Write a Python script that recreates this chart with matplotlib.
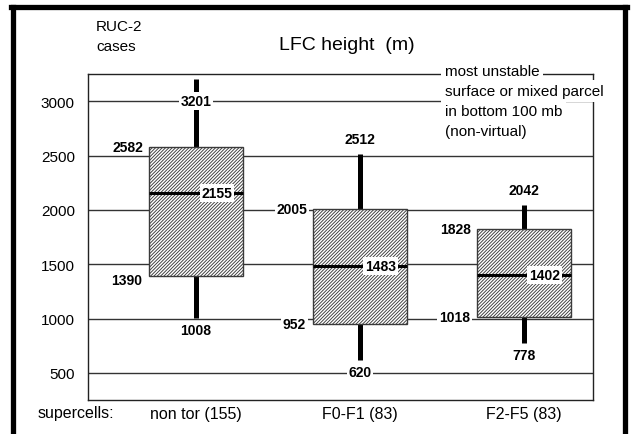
import matplotlib
matplotlib.use("Agg")
import matplotlib.pyplot as plt
from matplotlib.lines import Line2D
from matplotlib.patches import Rectangle

plt.rcParams['font.family'] = ['Liberation Sans', 'DejaVu Sans']
plt.rcParams['hatch.linewidth'] = 0.65

# box plot stats (m)
groups = ["non tor (155)", "F0-F1 (83)", "F2-F5 (83)"]
mins = [1008, 620, 778]
q1s = [1390, 952, 1018]
medians = [2155, 1483, 1402]
q3s = [2582, 2005, 1828]
maxs = [3201, 2512, 2042]

yticks = [500, 1000, 1500, 2000, 2500, 3000]
note_lines = ["most unstable", "surface or mixed parcel",
              "in bottom 100 mb", "(non-virtual)"]

W, H = 631, 435
fig = plt.figure(figsize=(W / 100, H / 100), dpi=100)
ax = fig.add_axes([88 / W, 1 - 401 / H, 505 / W, 326 / H])
ax.set_xlim(-0.659, 2.421)
ax.set_ylim(250, 3250)

# gridlines
for v in yticks:
    ax.axhline(v, color="#333333", lw=1.0, zorder=0.5)

bw = 0.575
lab = dict(fontsize=10, fontweight="bold", zorder=6,
           bbox=dict(facecolor="white", edgecolor="none", pad=1.3))
px = 1 / 164.0  # one pixel in x data units

for i in range(len(groups)):
    # whiskers
    ax.plot([i, i], [mins[i], q1s[i]], color="black", lw=3.6,
            solid_capstyle="butt", zorder=1.5)
    ax.plot([i, i], [q3s[i], maxs[i]], color="black", lw=3.6,
            solid_capstyle="butt", zorder=1.5)
    # box
    ax.add_patch(Rectangle((i - bw / 2, q1s[i]), bw, q3s[i] - q1s[i],
                           facecolor="white", edgecolor="#3a3a3a", lw=1.0,
                           hatch="//////////", zorder=2))
    # median
    ax.plot([i - bw / 2, i + bw / 2], [medians[i], medians[i]],
            color="black", lw=2.2, solid_capstyle="butt", zorder=3)
    ax.text(i + bw / 2 - 11 * px, medians[i], str(medians[i]),
            ha="right", va="center", **lab)
    # quartile labels left of box
    ax.annotate(str(q3s[i]), (i - bw / 2, q3s[i]), xytext=(-4, 0),
                textcoords="offset points", ha="right", va="center", **lab)
    dy = -3 if i == 0 else 0
    ax.annotate(str(q1s[i]), (i - bw / 2, q1s[i]), xytext=(-5, dy),
                textcoords="offset points", ha="right", va="center", **lab)
    # min label under whisker
    ax.annotate(str(mins[i]), (i, mins[i]), xytext=(0, -4),
                textcoords="offset points", ha="center", va="top", **lab)
    # max label
    if maxs[i] > 3000:
        ax.text(i, 3000, str(maxs[i]), ha="center", va="center", **lab)
    else:
        ax.annotate(str(maxs[i]), (i, maxs[i]), xytext=(0, 6),
                    textcoords="offset points", ha="center", va="bottom",
                    **lab)

ax.set_yticks(yticks)
ax.set_yticklabels([str(v) for v in yticks], fontsize=11)
ax.set_xticks(range(len(groups)))
ax.set_xticklabels(groups, fontsize=11.5)
ax.tick_params(axis="y", length=0, pad=9.5)
ax.tick_params(axis="x", length=0, pad=4)
for s in ax.spines.values():
    s.set_color("#222222")
    s.set_linewidth(1.0)

fig.text(38 / W, 1 - 414 / H, "supercells:", fontsize=11.5,
         ha="left", va="center")
fig.text(96 / W, 1 - 27 / H, "RUC-2", fontsize=11, ha="left", va="center")
fig.text(96 / W, 1 - 47 / H, "cases", fontsize=11, ha="left", va="center")
fig.text(347 / W, 1 - 46 / H, "LFC height  (m)", fontsize=14,
         ha="center", va="center")

for k, line in enumerate(note_lines):
    fig.text(445 / W, 1 - (72 + 20 * k) / H, line, fontsize=11,
             ha="left", va="center", zorder=10,
             bbox=dict(facecolor="white", edgecolor="none", pad=2.6))

# outer frame (open at the bottom)
fk = dict(color="black", lw=3.8, transform=fig.transFigure)
fig.add_artist(Line2D([12.5 / W, 12.5 / W], [0, 1 - 7.5 / H], **fk))
fig.add_artist(Line2D([10.5 / W, 626.5 / W], [1 - 7.5 / H, 1 - 7.5 / H], **fk))
fig.add_artist(Line2D([624.5 / W, 624.5 / W], [0, 1 - 7.5 / H], **fk))

fig.savefig("out.png", dpi=100)
